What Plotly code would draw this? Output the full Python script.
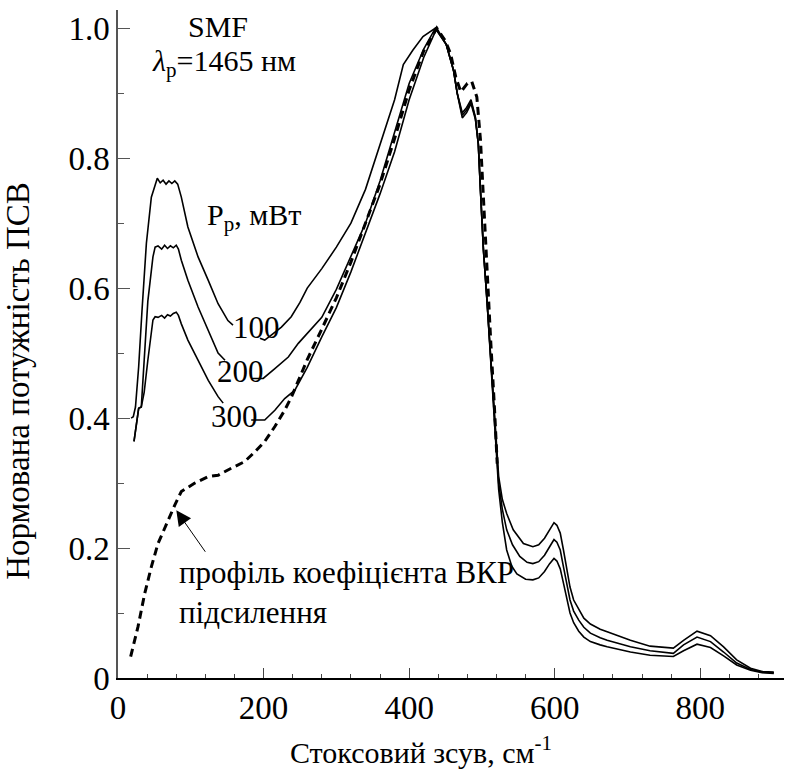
import plotly.graph_objects as go

# ---- data ----
x_100 = [18, 21, 24, 28.4, 33, 39, 45.8, 50.4, 54, 58, 62, 66, 70, 74, 78, 82, 87, 96, 110, 124, 137.5, 151, 158,
         None,
         195, 201.6, 211, 224.5, 238, 250, 260, 280, 300, 320, 340, 360, 380, 392, 405, 419, 436,
         451, 461, 466, 473, 479, 485, 491, 495, 498, 502, 507, 512, 516, 520, 523, 528, 534, 543, 557, 570, 578, 586,
         593, 599, 603, 607.6, 612, 616.7, 621, 626, 633, 640, 649, 662.5, 672, 704, 731, 763, 777, 795.5, 814, 832,
         850, 869, 885, 901]
y_100 = [0.400, 0.402, 0.417, 0.479, 0.566, 0.669, 0.740, 0.758, 0.769, 0.762, 0.766, 0.760, 0.765, 0.761, 0.765, 0.760,
         0.740, 0.694, 0.648, 0.612, 0.576, 0.550, 0.543,
         None,
         0.523, 0.520, 0.528, 0.540, 0.556, 0.578, 0.600, 0.630, 0.663, 0.700, 0.752, 0.820, 0.890, 0.944, 0.966, 0.987, 1.0,
         0.975, 0.935, 0.900, 0.870, 0.878, 0.890, 0.863, 0.822, 0.750, 0.660, 0.580, 0.490, 0.428, 0.352, 0.310, 0.275,
         0.253, 0.228, 0.207, 0.202, 0.205, 0.215, 0.228, 0.239, 0.235, 0.223, 0.197, 0.166, 0.140, 0.120, 0.105, 0.092,
         0.083, 0.075, 0.071, 0.058, 0.049, 0.046, 0.058, 0.072, 0.065, 0.048, 0.028, 0.015, 0.010, 0.009]

x_200 = [22, 25, 28.4, 32, 35.7, 41, 48, 51, 55, 60, 64, 68, 72, 76, 80, 83, 87, 96, 110, 124, 137.5, 147,
         None,
         183, 199.5, 215.5, 234, 247.7, 260, 280, 300, 320, 340, 360, 380, 400, 420, 436,
         451, 461, 466, 473, 479, 485, 491, 495, 498, 502, 507, 512, 516, 520, 523, 528, 534, 542, 552, 562, 570, 578,
         586, 593, 599, 603, 607.6, 612, 616.7, 621, 626, 633, 640, 649, 662.5, 672, 704, 731, 763, 777, 795.5, 814,
         832, 850, 869, 885, 901]
y_200 = [0.364, 0.387, 0.415, 0.417, 0.489, 0.580, 0.648, 0.663, 0.665, 0.660, 0.666, 0.661, 0.665, 0.662, 0.666, 0.660,
         0.643, 0.612, 0.571, 0.535, 0.500, 0.489,
         None,
         0.461, 0.461, 0.476, 0.494, 0.515, 0.530, 0.555, 0.598, 0.648, 0.700, 0.765, 0.840, 0.915, 0.968, 1.0,
         0.975, 0.935, 0.900, 0.866, 0.874, 0.887, 0.862, 0.822, 0.750, 0.660, 0.580, 0.490, 0.428, 0.350, 0.300, 0.260,
         0.228, 0.205, 0.187, 0.178, 0.176, 0.179, 0.189, 0.202, 0.213, 0.209, 0.197, 0.171, 0.142, 0.120, 0.103, 0.089,
         0.078, 0.069, 0.062, 0.058, 0.048, 0.042, 0.038, 0.051, 0.063, 0.056, 0.040, 0.023, 0.013, 0.009, 0.008]

x_300 = [22, 25, 28.4, 32, 36, 41, 48, 51, 55, 60, 64, 68, 72, 76, 80, 83, 87, 96, 110, 124, 137.5, 144.5,
         None,
         183, 201.6, 215.5, 229, 243, 260, 280, 300, 320, 340, 360, 380, 400, 420, 438,
         451, 461, 466, 473, 479, 485, 491, 495, 498, 502, 507, 512, 516, 520, 523, 528, 534, 541, 548, 560, 570, 578,
         586, 593, 599, 603, 607.6, 612, 616.7, 621, 626, 633, 640, 649, 662.5, 672, 704, 731, 763, 777, 795.5, 814,
         832, 850, 869, 885, 901]
y_300 = [0.364, 0.387, 0.415, 0.417, 0.440, 0.489, 0.551, 0.556, 0.555, 0.558, 0.554, 0.559, 0.557, 0.561, 0.563, 0.558,
         0.545, 0.520, 0.489, 0.458, 0.433, 0.423,
         None,
         0.397, 0.397, 0.412, 0.430, 0.443, 0.478, 0.525, 0.570, 0.625, 0.685, 0.745, 0.810, 0.890, 0.955, 1.0,
         0.975, 0.935, 0.900, 0.862, 0.870, 0.884, 0.860, 0.822, 0.750, 0.660, 0.580, 0.490, 0.428, 0.348, 0.290, 0.240,
         0.197, 0.172, 0.160, 0.152, 0.151, 0.154, 0.164, 0.176, 0.184, 0.180, 0.168, 0.146, 0.120, 0.100, 0.085, 0.072,
         0.063, 0.056, 0.051, 0.048, 0.040, 0.035, 0.033, 0.042, 0.052, 0.047, 0.034, 0.020, 0.012, 0.008, 0.007]

x_gain = [17.4, 27.5, 36.7, 45.8, 55, 66.5, 78, 87, 105.5, 124, 137.5, 156, 174, 188, 201.6, 215.5, 229, 238.5,
          260, 280, 300, 320, 340, 360, 380, 400, 420, 438, 450, 457, 464, 471, 480, 486, 493, 495.5, 498, 502, 507,
          512, 517, 521]
y_gain = [0.033, 0.079, 0.130, 0.171, 0.207, 0.238, 0.266, 0.287, 0.300, 0.310, 0.312, 0.323, 0.333, 0.348, 0.364,
          0.387, 0.412, 0.433, 0.490, 0.537, 0.585, 0.640, 0.700, 0.760, 0.830, 0.905, 0.965, 1.0, 0.980, 0.960,
          0.925, 0.902, 0.915, 0.918, 0.894, 0.858, 0.828, 0.740, 0.620, 0.520, 0.420, 0.330]

power_labels = ["100", "200", "300"]
y_tickvals = [0, 0.2, 0.4, 0.6, 0.8, 1.0]
y_ticktext = ["0", "0.2", "0.4", "0.6", "0.8", "1.0"]
x_tickvals = [0, 200, 400, 600, 800]

FONT = "Liberation Serif"

fig = go.Figure()
for xs, ys in [(x_100, y_100), (x_200, y_200), (x_300, y_300)]:
    fig.add_trace(go.Scatter(x=xs, y=ys, mode="lines", line=dict(color="black", width=1.6),
                             connectgaps=False, showlegend=False, hoverinfo="skip"))
fig.add_trace(go.Scatter(x=x_gain, y=y_gain, mode="lines", line=dict(color="black", width=3, dash="8px,5px"),
                         showlegend=False, hoverinfo="skip"))

fig.update_layout(
    width=786, height=773,
    margin=dict(l=118, r=2, t=10, b=95),
    paper_bgcolor="white", plot_bgcolor="white",
    font=dict(family=FONT, color="black", size=30),
    xaxis=dict(range=[0, 915], showgrid=False, zeroline=False, showline=True, linecolor="black", linewidth=1.5,
               tickmode="array", tickvals=x_tickvals, ticks="inside", ticklen=10, tickcolor="#444",
               tickfont=dict(size=33, family=FONT, color="black"),
               minor=dict(tickmode="array", tickvals=[v for v in range(40, 915, 40) if v % 200 != 0],
                          ticks="inside", ticklen=4, tickcolor="#444")),
    yaxis=dict(range=[0, 1.028], showgrid=False, zeroline=False, showline=True, linecolor="#555", linewidth=1.5,
               tickmode="array", tickvals=y_tickvals, ticktext=y_ticktext, ticks="inside", ticklen=12,
               tickcolor="#555", tickfont=dict(size=33, family=FONT, color="black"),
               minor=dict(tickmode="array", tickvals=[0.1, 0.3, 0.5, 0.7, 0.9],
                          ticks="inside", ticklen=6, tickcolor="#555")),
)

ann = []
ann.append(dict(x=0.455, y=-0.108, xref="paper", yref="paper", text="Стоксовий зсув, см<sup>-1</sup>",
                showarrow=False, font=dict(size=30, family=FONT), xanchor="center", yanchor="middle"))
ann.append(dict(x=-0.150, y=0.445, xref="paper", yref="paper", text="Нормована потужність ПСВ",
                showarrow=False, font=dict(size=33, family=FONT), textangle=-90, xanchor="center", yanchor="middle"))
ann.append(dict(x=137.5, y=1.003, text="SMF", showarrow=False, font=dict(size=30, family=FONT),
                xanchor="center", yanchor="middle"))
ann.append(dict(x=145.7, y=0.946, text="<i>λ</i><sub>p</sub>=1465 нм", showarrow=False,
                font=dict(size=30, family=FONT), xanchor="center", yanchor="middle"))
ann.append(dict(x=187, y=0.709, text="P<sub>p</sub>, мВт", showarrow=False, font=dict(size=30, family=FONT),
                xanchor="center", yanchor="middle"))
for lab, lx, ly in zip(power_labels, [190.6, 167.7, 159.5], [0.54, 0.471, 0.402]):
    ann.append(dict(x=lx, y=ly, text=lab, showarrow=False, font=dict(size=31, family=FONT),
                    xanchor="center", yanchor="middle"))
ann.append(dict(x=80.6, y=0.132, text="профіль коефіцієнта ВКР<br>підсилення", showarrow=False,
                font=dict(size=31, family=FONT), xanchor="left", yanchor="middle", align="left"))
ann.append(dict(x=80.1, y=0.258, ax=121.4, ay=0.192, axref="x", ayref="y", xref="x", yref="y", text="",
                showarrow=True, arrowhead=2, arrowsize=3, arrowwidth=1, arrowcolor="black"))
fig.update_layout(annotations=ann)

fig.write_html("out.html")
